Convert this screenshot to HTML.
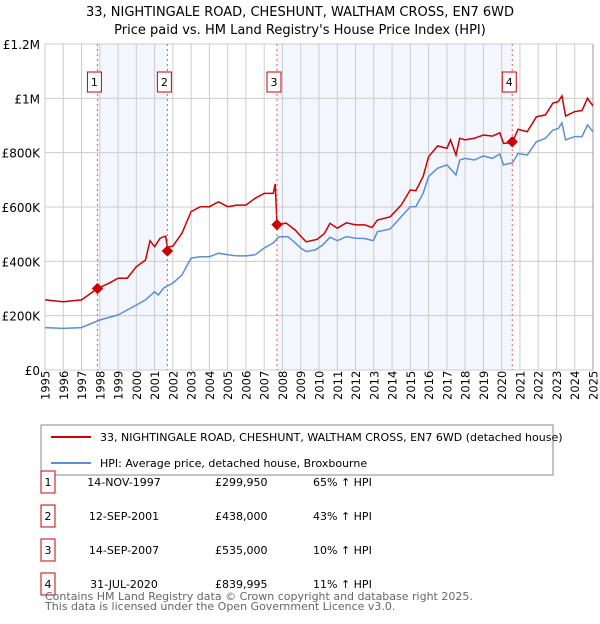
<!DOCTYPE html>
<html><head><meta charset="utf-8"><style>
body{margin:0;background:#fff;font-family:"DejaVu Sans","Liberation Sans",sans-serif;}
svg text{font-family:"DejaVu Sans","Liberation Sans",sans-serif;}
</style></head><body>
<svg id="chart" width="600" height="620" viewBox="0 0 600 620" xmlns="http://www.w3.org/2000/svg">
<text x="300" y="16" text-anchor="middle" font-size="13">33, NIGHTINGALE ROAD, CHESHUNT, WALTHAM CROSS, EN7 6WD</text>
<text x="300" y="34" text-anchor="middle" font-size="13">Price paid vs. HM Land Registry's House Price Index (HPI)</text>
<g id="shade"></g><g id="grid"></g><g id="axes"></g><g id="series"></g><g id="marks"></g>
<rect x="41" y="425" width="512" height="50" fill="none" stroke="#888"/>
<line x1="51" y1="437" x2="91" y2="437" stroke="#cc0000" stroke-width="2"/>
<text x="100" y="441" font-size="11">33, NIGHTINGALE ROAD, CHESHUNT, WALTHAM CROSS, EN7 6WD (detached house)</text>
<line x1="51" y1="463" x2="91" y2="463" stroke="#5b8fd6" stroke-width="2"/>
<text x="100" y="467" font-size="11">HPI: Average price, detached house, Broxbourne</text>
<g id="table" font-size="11"></g>
<text x="45" y="600" font-size="11" fill="#666">Contains HM Land Registry data © Crown copyright and database right 2025.</text>
<text x="45" y="610" font-size="11" fill="#666">This data is licensed under the Open Government Licence v3.0.</text>
</svg>
<script>
const yTicks=[0,200000,400000,600000,800000,1000000,1200000];
const yTickLabels=["£0","£200K","£400K","£600K","£800K","£1M","£1.2M"];
const years=[1995,1996,1997,1998,1999,2000,2001,2002,2003,2004,2005,2006,2007,2008,2009,2010,2011,2012,2013,2014,2015,2016,2017,2018,2019,2020,2021,2022,2023,2024,2025];
const hpiT=[1995,1996,1997,1998,1999,2000,2000.5,2001,2001.2,2001.5,2002,2002.5,2003,2003.5,2004,2004.5,2005,2005.5,2006,2006.5,2007,2007.5,2007.8,2008.3,2008.7,2009,2009.3,2009.8,2010.2,2010.6,2011,2011.5,2012,2012.5,2012.97,2013.2,2013.9,2014.5,2015,2015.3,2015.7,2016,2016.5,2017,2017.5,2017.7,2018,2018.5,2019,2019.5,2019.9,2020.1,2020.6,2020.9,2021.4,2021.9,2022.4,2022.8,2023.1,2023.3,2023.5,2024,2024.4,2024.7,2025];
const hpiV=[156,153,156,184,203,239,258,288,276,302,320,350,412,417,417,430,424,420,420,424,449,468,490,491,468,449,436,442,460,489,476,491,485,484,476,509,519,564,601,601,650,712,743,755,718,773,779,773,788,779,795,755,763,797,791,840,853,883,889,910,847,859,859,902,877];
const propT=[1995,1996,1997,1997.5,1997.87,1998.5,1999,1999.5,2000,2000.5,2000.75,2001,2001.3,2001.6,2001.7,2002,2002.5,2003,2003.5,2004,2004.5,2005,2005.5,2006,2006.5,2007,2007.5,2007.6,2007.7,2008.2,2008.7,2009,2009.3,2009.9,2010.3,2010.6,2011,2011.5,2012,2012.5,2012.9,2013.2,2013.9,2014.5,2015,2015.3,2015.7,2016,2016.5,2017,2017.2,2017.5,2017.7,2018,2018.5,2019,2019.5,2019.9,2020.1,2020.58,2020.9,2021.4,2021.9,2022.4,2022.8,2023.1,2023.3,2023.5,2024,2024.4,2024.7,2025];
const propV=[258,251,258,282,300,319,338,338,380,405,476,454,485,493,452,456,504,583,601,601,619,601,607,607,632,650,650,685,534,541,515,493,472,481,503,540,522,542,534,534,525,552,564,607,663,660,712,785,825,816,847,791,853,847,853,865,861,873,834,837,886,877,932,939,982,988,1009,935,951,955,1000,972];
const saleT=[1997.87,2001.7,2007.7,2020.58];
const saleV=[299950,438000,535000,839995];
const saleDates=["14-NOV-1997","12-SEP-2001","14-SEP-2007","31-JUL-2020"];
const salePrices=["£299,950","£438,000","£535,000","£839,995"];
const saleHpi=["65% ↑ HPI","43% ↑ HPI","10% ↑ HPI","11% ↑ HPI"];

const NS="http://www.w3.org/2000/svg";
const X0=45,X1=593,Y0=370,Y1=44;
const x=t=>X0+(t-1995)/30*(X1-X0);
const y=v=>Y0-v/1200000*(Y0-Y1);
function mk(p,tag,a){const e=document.createElementNS(NS,tag);for(const k in a)e.setAttribute(k,a[k]);document.getElementById(p).appendChild(e);return e;}
[[0,1],[2,3]].forEach(([a,b],i)=>{const r=mk('shade','rect',{x:x(saleT[a]),y:Y1,width:x(saleT[b])-x(saleT[a]),height:Y0-Y1,fill:'#f3f6fd'});

});
years.forEach(t=>{const l=mk('grid','line',{x1:x(t),x2:x(t),y1:Y1,y2:Y0,stroke:'#ccc'});


const tx=mk('axes','text',{transform:`translate(${x(t)+4.5},${Y0+30}) rotate(-90)`,'font-size':'11.5'});tx.textContent=t;

});
yTicks.forEach((v,i)=>{const l=mk('grid','line',{x1:X0,x2:X1,y1:y(v),y2:y(v),stroke:'#ccc'});


const tx=mk('axes','text',{x:40,y:y(v)+5,'text-anchor':'end','font-size':'12'});tx.textContent=yTickLabels[i];

});
const ax=mk('axes','line',{x1:X1,x2:X1,y1:Y1,y2:Y0,stroke:'#999'});


const line=(T,V,c,n)=>{const p=mk('series','path',{d:T.map((t,i)=>(i?'L':'M')+x(t).toFixed(1)+','+y(V[i]*1000).toFixed(1)).join(''),fill:'none',stroke:c,'stroke-width':1.5});

};
line(hpiT,hpiV,'#5b8fd6','hpi-line');
line(propT,propV,'#cc0000','property-line');
saleT.forEach((t,i)=>{const l=mk('marks','line',{x1:x(t),x2:x(t),y1:Y1,y2:Y0,stroke:'#e55','stroke-dasharray':'2,3','stroke-width':1});


const d=mk('marks','rect',{x:x(t)-4,y:y(saleV[i])-4,width:8,height:8,fill:'#cc0000',transform:`rotate(45 ${x(t)} ${y(saleV[i])})`});


const b=mk('marks','rect',{x:x(t)-10,y:72,width:14,height:20,fill:'#fff',stroke:'#c00'});


const tx=mk('marks','text',{x:x(t)-3,y:86,'text-anchor':'middle','font-size':'11'});tx.textContent=i+1;


const ry=480+34*i;
const tb=mk('table','rect',{x:41,y:ry-9,width:14,height:22,fill:'#fff',stroke:'#c00'});


const cells=[[48,'middle',String(i+1)],[124,'middle',saleDates[i]],[215,'start',salePrices[i]],[313,'start',saleHpi[i]]];
cells.forEach((c,j)=>{const e=mk('table','text',{x:c[0],y:ry+6,'text-anchor':c[1]});e.textContent=c[2];

});
});
</script>
</body></html>
